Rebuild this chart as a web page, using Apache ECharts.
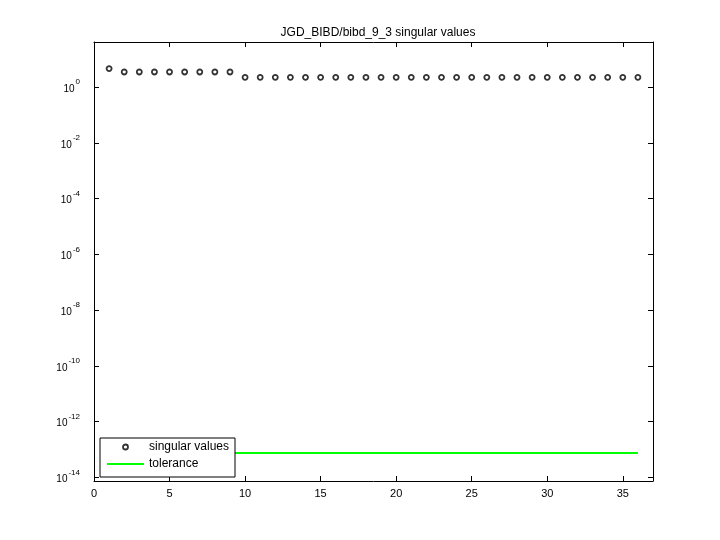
<!DOCTYPE html>
<html><head><meta charset="utf-8">
<script src="https://cdn.jsdelivr.net/npm/echarts@6/dist/echarts.min.js"></script>
<style>html,body{margin:0;padding:0;background:#fff}#c{width:720px;height:540px}</style>
</head><body><div id="c"></div>
<script>
const titleText = 'JGD_BIBD/bibd_9_3 singular values';
const indices = Array.from({length: 36}, (_, i) => i + 1);
const singularValues = [4.583,
  3.464, 3.464, 3.464, 3.464, 3.464, 3.464, 3.464, 3.464,
  2.236, 2.236, 2.236, 2.236, 2.236, 2.236, 2.236, 2.236, 2.236,
  2.236, 2.236, 2.236, 2.236, 2.236, 2.236, 2.236, 2.236, 2.236,
  2.236, 2.236, 2.236, 2.236, 2.236, 2.236, 2.236, 2.236, 2.236];
const toleranceX = [1, 36];
const toleranceValue = [7.5e-14, 7.5e-14];
const xTicks = [0, 5, 10, 15, 20, 25, 30, 35];
const yExponents = [-14, -12, -10, -8, -6, -4, -2, 0];

const font = 'Liberation Sans, Arial, Helvetica, sans-serif';
const chart = echarts.init(document.getElementById('c'), null, {renderer: 'canvas'});
const lg = v => Math.log10(v);
const axisCommon = {
  axisLine: {show: true, onZero: false, lineStyle: {color: '#000', width: 1}},
  splitLine: {show: false}
};
chart.setOption({
  animation: false,
  backgroundColor: '#fff',
  title: {text: titleText, left: 373, top: 22, textAlign: 'center',
    textStyle: {fontFamily: font, fontSize: 12, fontWeight: 'normal', color: '#000'}},
  grid: {left: 94, right: 67, top: 42, bottom: 59},
  xAxis: [
    Object.assign({type: 'value', position: 'bottom', min: 0, max: 37, interval: 5,
      axisTick: {inside: true, length: 5, customValues: xTicks, lineStyle: {color: '#000'}},
      axisLabel: {color: '#000', fontFamily: font, fontSize: 11, margin: 7,
        customValues: xTicks}}, axisCommon),
    Object.assign({type: 'value', position: 'top', min: 0, max: 37, interval: 5,
      axisTick: {inside: true, length: 5, customValues: xTicks, lineStyle: {color: '#000'}},
      axisLabel: {show: false}}, axisCommon)
  ],
  yAxis: [
    Object.assign({type: 'value', position: 'left', min: -14.13, max: 1.615,
      axisTick: {inside: true, length: 5, customValues: yExponents, lineStyle: {color: '#000'}},
      axisLabel: {customValues: yExponents, margin: 14, color: '#000', fontFamily: font,
        formatter: v => '{b|10}{s|' + v + '}',
        rich: {b: {fontSize: 10, lineHeight: 10, fontFamily: font, color: '#000', verticalAlign: 'bottom', padding: [0, 0, -2, 0]},
               s: {fontSize: 8, lineHeight: 8, fontFamily: font, color: '#000', verticalAlign: 'bottom', padding: [0, 0, 6, 1]}}}}, axisCommon),
    Object.assign({type: 'value', position: 'right', min: -14.13, max: 1.615,
      axisTick: {inside: true, length: 5, customValues: yExponents, lineStyle: {color: '#000'}},
      axisLabel: {show: false}}, axisCommon)
  ],
  legend: {
    orient: 'vertical', left: 100, top: 438,
    backgroundColor: '#fff',
    borderColor: '#000', borderWidth: 1, borderRadius: 0,
    padding: [2, 4, 6, 7], itemGap: 3, itemWidth: 37, itemHeight: 5,
    symbolKeepAspect: true,
    textStyle: {fontFamily: font, fontSize: 12, lineHeight: 14, color: '#000', width: 82},
    data: [{name: 'singular values', icon: 'circle',
            itemStyle: {color: '#fff', borderColor: '#000', borderWidth: 1.8}},
           {name: 'tolerance', icon: 'path://M0,0H37V2H0Z',
            itemStyle: {color: '#00ff00', borderWidth: 0}}]
  },
  series: [
    {name: 'singular values', type: 'scatter', xAxisIndex: 0, yAxisIndex: 0,
      symbol: 'circle', symbolSize: 5,
      itemStyle: {color: '#fff', borderColor: '#000', borderWidth: 1.8},
      data: indices.map((x, i) => [x, lg(singularValues[i])])},
    {name: 'tolerance', type: 'line', xAxisIndex: 0, yAxisIndex: 0,
      showSymbol: false, symbol: 'none',
      lineStyle: {color: '#00ff00', width: 2},
      itemStyle: {color: '#00ff00'},
      data: toleranceX.map((x, i) => [x, lg(toleranceValue[i])])}
  ]
});
</script></body></html>
